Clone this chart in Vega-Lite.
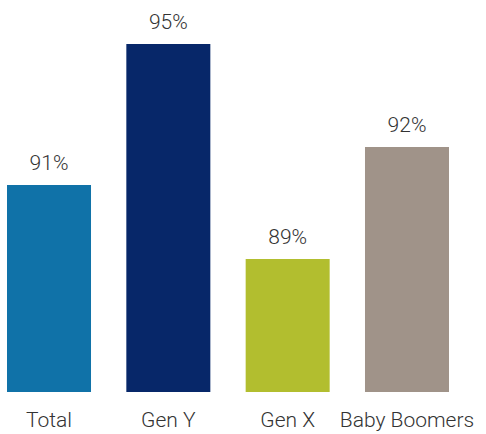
{
  "$schema": "https://vega.github.io/schema/vega-lite/v6.json",
  "width": 456,
  "height": 392,
  "autosize": {"type": "none"},
  "padding": {"left": 0, "top": 0, "right": 30, "bottom": 42},
  "background": "white",
  "config": {"view": {"stroke": null}, "font": "Roboto"},
  "data": {
    "values": [
      {"group": "Total", "value": 91.07, "label": "91%", "color": "#1072A8"},
      {"group": "Gen Y", "value": 95, "label": "95%", "color": "#072769"},
      {"group": "Gen X", "value": 89, "label": "89%", "color": "#B2BE2F"},
      {"group": "Baby Boomers", "value": 92.13, "label": "92%", "color": "#A09389"}
    ]
  },
  "encoding": {
    "x": {
      "field": "group",
      "type": "nominal",
      "sort": null,
      "scale": {"paddingInner": 0.296, "paddingOuter": 0.0587},
      "axis": {
        "title": null,
        "domain": false,
        "ticks": false,
        "labelAngle": 0,
        "labelFont": "Roboto",
        "labelFontWeight": 300,
        "labelFontSize": 21,
        "labelColor": "#333333",
        "labelBaseline": "top",
        "labelPadding": 17,
        "labelOverlap": false,
        "labelBound": false
      }
    },
    "y": {
      "field": "value",
      "type": "quantitative",
      "scale": {"domain": [85.29, 96.23], "zero": false, "nice": false},
      "axis": null
    }
  },
  "layer": [
    {
      "mark": {"type": "bar", "clip": true},
      "encoding": {
        "color": {"field": "color", "type": "nominal", "scale": null, "legend": null}
      }
    },
    {
      "mark": {"type": "text", "baseline": "alphabetic", "dy": -15, "font": "Roboto", "fontWeight": 300, "fontSize": 21, "color": "#333333"},
      "encoding": {"text": {"field": "label"}}
    }
  ]
}
